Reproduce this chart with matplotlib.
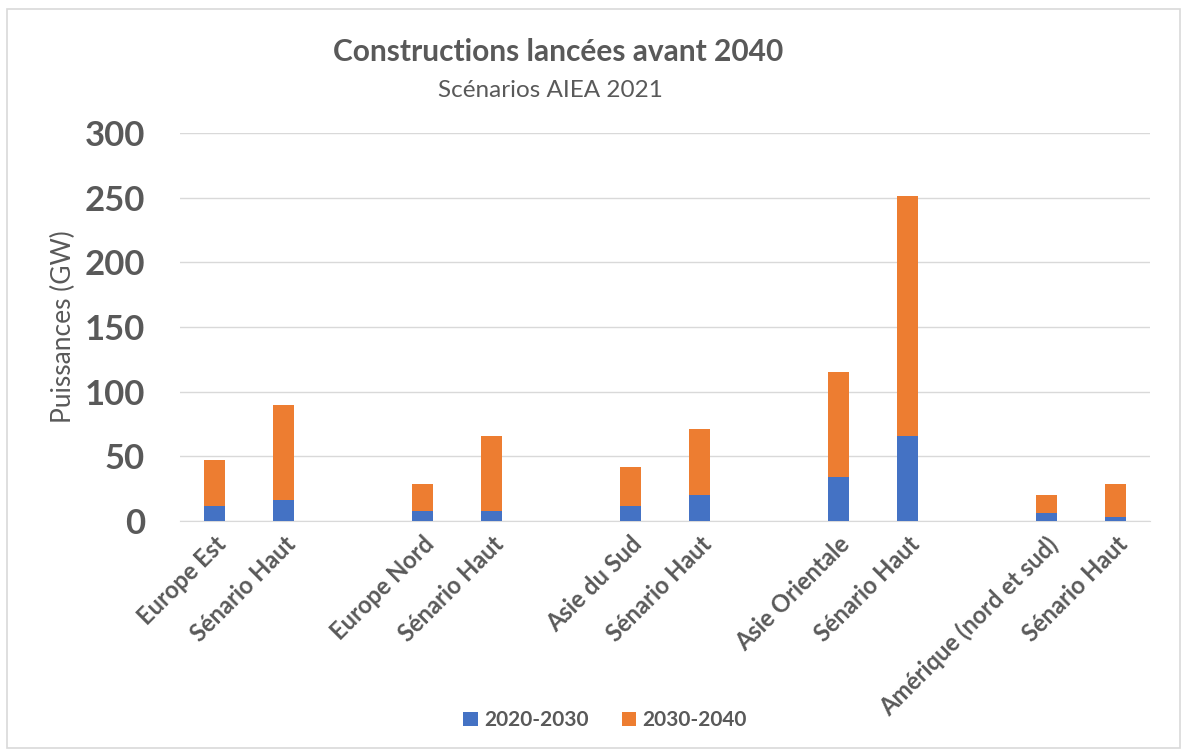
import matplotlib.pyplot as plt
from matplotlib.patches import Rectangle

plt.rcParams['font.family'] = ['Lato', 'DejaVu Sans']

# blank strings leave a gap between the regional groups
categories = ["Europe Est", "Sénario Haut", "",
              "Europe Nord", "Sénario Haut", "",
              "Asie du Sud", "Sénario Haut", "",
              "Asie Orientale", "Sénario Haut", "",
              "Amérique (nord et sud)", "Sénario Haut"]
gw_2020_2030 = [12, 16, 0, 8, 8, 0, 12, 20, 0, 34, 66, 0, 6, 3]
gw_2030_2040 = [35, 74, 0, 21, 58, 0, 30, 51, 0, 81, 185, 0, 14, 26]
series_labels = ["2020-2030", "2030-2040"]

BLUE = "#4472C4"
ORANGE = "#ED7D31"
TEXT = "#595959"

fig = plt.figure(figsize=(11.82, 7.51), dpi=100)
fig.patches.append(Rectangle((0.006, 0.004), 0.992, 0.984, transform=fig.transFigure,
                             fill=False, edgecolor="#d9d9d9", linewidth=1.2))
ax = fig.add_axes([0.152, 0.306, 0.821, 0.517])

x = range(len(categories))
ax.bar(x, gw_2020_2030, width=0.3, color=BLUE, label=series_labels[0], zorder=3)
ax.bar(x, gw_2030_2040, width=0.3, bottom=gw_2020_2030, color=ORANGE,
       label=series_labels[1], zorder=3)

ax.set_xlim(-0.5, len(categories) - 0.5)
ax.set_ylim(0, 300)
ax.set_yticks(range(0, 301, 50))
ax.grid(axis="y", color="#d9d9d9", linewidth=1, zorder=0)
for side in ("top", "right", "left"):
    ax.spines[side].set_visible(False)
ax.spines["bottom"].set_color("#d9d9d9")
ax.tick_params(axis="both", length=0)
ax.tick_params(axis="y", labelsize=25, labelcolor=TEXT, pad=25)
for lbl in ax.get_yticklabels():
    lbl.set_fontweight("bold")

ax.set_xticks(list(x))
ax.set_xticklabels(categories, rotation=45, ha="right", rotation_mode="anchor",
                   fontsize=17, fontweight="bold", color=TEXT)
ax.tick_params(axis="x", pad=8)
ax.set_ylabel("Puissances (GW)", fontsize=19, color=TEXT, labelpad=6)

fig.text(0.472, 0.931, "Constructions lancées avant 2040", ha="center", va="center",
         fontsize=21.5, fontweight="bold", color=TEXT)
fig.text(0.466, 0.880, "Scénarios AIEA 2021", ha="center", va="center",
         fontsize=17.5, color=TEXT)

fig.legend(loc="center", bbox_to_anchor=(0.512, 0.041), ncol=2, frameon=False,
           prop={"size": 15, "weight": "bold"}, labelcolor=TEXT, handlelength=0.7,
           handleheight=0.7, handletextpad=0.3, columnspacing=1.6)

fig.savefig("out.png", dpi=100)
